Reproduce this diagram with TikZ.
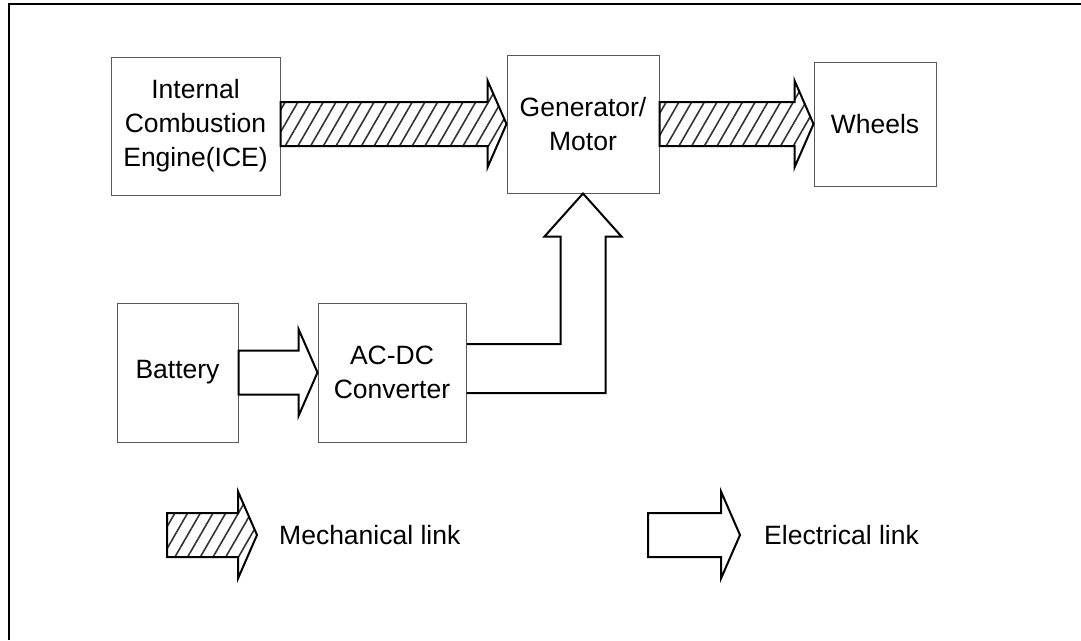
\documentclass[tikz,border=0pt]{standalone}
\usepackage{fontspec}
\setmainfont{Liberation Sans}
\usetikzlibrary{calc,patterns.meta}
\newcommand\fatarrow[3]{%
  \draw[#1] let \p1=#2, \p2=#3 in
    (\x1,\y2+22pt) -- (\x2-19pt,\y2+22pt) -- (\x2-19pt,\y2+43.5pt) -- (\x2,\y2)
    -- (\x2-19pt,\y2-43.5pt) -- (\x2-19pt,\y2-22pt) -- (\x1,\y2-22pt) -- cycle;}
\begin{document}
\begin{tikzpicture}[x=1pt,y=-1pt,
  box/.style={draw=black!65, line width=1pt, inner sep=0pt, align=center,
    font=\fontsize{26.5}{34}\selectfont},
  lbl/.style={inner sep=0pt, anchor=west, font=\fontsize{26.5}{34}\selectfont},
  mech/.style={draw=black, line width=2pt, line join=miter,
    pattern={Lines[angle=60, distance=11pt, line width=1.6pt]}, pattern color=black!80},
  elec/.style={draw=black, line width=2pt, line join=miter, fill=white},
  frame/.style={draw=black, line width=2pt}]
\useasboundingbox (0,0) rectangle (1081,640);
\draw[frame] (9,640) -- (9,4) -- (1081,4);
% blocks
\node[box, minimum width=169pt, minimum height=138pt] (ice) at (195.5,126) {Internal\\Combustion\\Engine(ICE)};
\node[box, minimum width=152pt, minimum height=138pt] (gen) at (583,124) {Generator/\\Motor};
\node[box, minimum width=122pt, minimum height=124pt] (wheels) at (875,124) {Wheels};
\node[box, minimum width=121pt, minimum height=139pt] (bat) at (177.5,372.5) {Battery};
\node[box, minimum width=148pt, minimum height=139pt] (acdc) at (392,372.5) {AC-DC\\Converter};
% connectors
\fatarrow{mech}{(ice.east)}{(gen.west)}
\fatarrow{mech}{(gen.east)}{(wheels.west)}
\fatarrow{elec}{(bat.east)}{(acdc.west)}
\draw[elec, fill=none] let \p1=(acdc.east), \p2=(gen.south) in
  (\x1,\y1+28.5pt) -- (\x2-22.5pt,\y1+28.5pt) -- (\x2-22.5pt,\y2-43pt)
  -- (\x2-38.5pt,\y2-43pt) -- (\p2) -- (\x2+38.5pt,\y2-43pt)
  -- (\x2+22.5pt,\y2-43pt) -- (\x2+22.5pt,\y1-20.5pt) -- (\x1,\y1-20.5pt);
% legend
\coordinate (ms) at (167,535);
\coordinate (mt) at (257,535);
\coordinate (es) at (648,535);
\coordinate (et) at (740,535);
\fatarrow{mech}{(ms)}{(mt)}
\fatarrow{elec}{(es)}{(et)}
\node[lbl] (mlab) at (279,535) {Mechanical link};
\node[lbl] (elab) at (764,535) {Electrical link};
\end{tikzpicture}
\end{document}
